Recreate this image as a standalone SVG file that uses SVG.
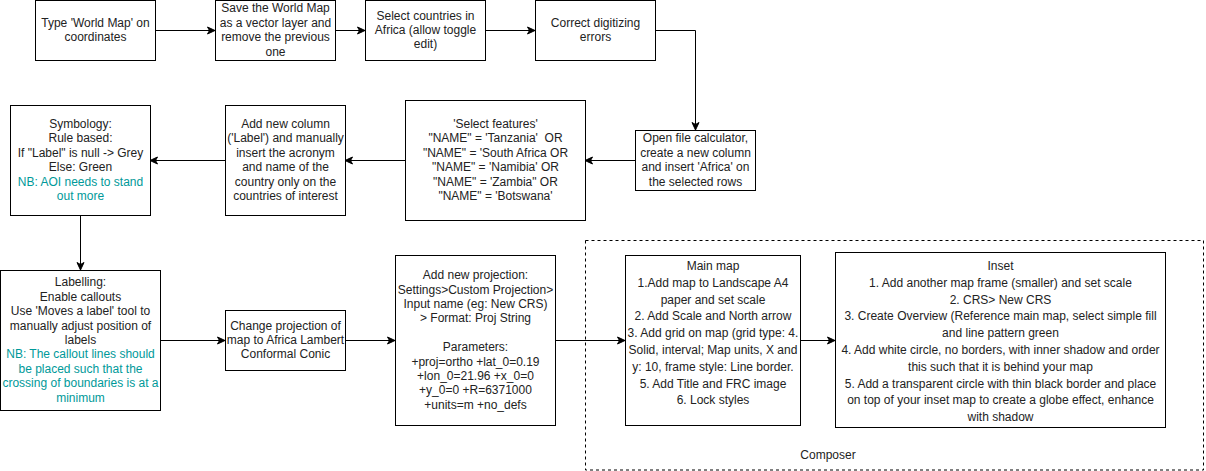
<svg xmlns="http://www.w3.org/2000/svg" width="1206" height="471" viewBox="0 0 1206 471">
<style>
.box{fill:#fff;stroke:#000;stroke-width:1}
.t{font-family:"Liberation Sans",Arial,sans-serif;font-size:12px;fill:#222;text-anchor:middle}
.nb{fill:#009999}
.edge{fill:none;stroke:#000;stroke-width:1}
.cont{fill:none;stroke:#000;stroke-width:1;stroke-dasharray:3 3}
</style>
<defs>
<marker id="arr" markerUnits="userSpaceOnUse" markerWidth="10" markerHeight="10" viewBox="0 0 10 10" refX="9" refY="5" orient="auto">
<path d="M1.5,1.5 L9,5 L1.5,8.5 L3.5,5 Z" fill="#000" stroke="#000" stroke-width="1"/>
</marker>
</defs>
<rect width="1206" height="471" fill="#fff"/>

<g id="composer">
<rect class="cont" x="585.5" y="240.5" width="618" height="229.5"/>
<text class="t" x="828" y="459">Composer</text>
</g>

<g id="connectors">
<path class="edge" d="M155,30.5 H215" marker-end="url(#arr)"/>
<path class="edge" d="M335,30.5 H365" marker-end="url(#arr)"/>
<path class="edge" d="M485,30.5 H535" marker-end="url(#arr)"/>
<path class="edge" d="M655,30.5 H695.5 V130" marker-end="url(#arr)"/>
<path class="edge" d="M635,160.5 H585" marker-end="url(#arr)"/>
<path class="edge" d="M405,160.5 H345" marker-end="url(#arr)"/>
<path class="edge" d="M225,160.5 H150" marker-end="url(#arr)"/>
<path class="edge" d="M80.5,215 V270" marker-end="url(#arr)"/>
<path class="edge" d="M160,340.5 H225" marker-end="url(#arr)"/>
<path class="edge" d="M345,340.5 H395" marker-end="url(#arr)"/>
<path class="edge" d="M555,340.5 H625" marker-end="url(#arr)"/>
<path class="edge" d="M800,340.5 H835" marker-end="url(#arr)"/>
</g>

<g id="n1">
<rect class="box" x="35.5" y="0.5" width="120" height="60"/>
<text class="t" x="95.5" y="26.8">Type 'World Map' on</text>
<text class="t" x="95.5" y="41.2">coordinates</text>
</g>

<g id="n2">
<rect class="box" x="215.5" y="0.5" width="120" height="60"/>
<text class="t" x="275.5" y="12.4">Save the World Map</text>
<text class="t" x="275.5" y="26.8">as a vector layer and</text>
<text class="t" x="275.5" y="41.2">remove the previous</text>
<text class="t" x="275.5" y="55.6">one</text>
</g>

<g id="n3">
<rect class="box" x="365.5" y="0.5" width="120" height="60"/>
<text class="t" x="425.5" y="19.6">Select countries in</text>
<text class="t" x="425.5" y="34">Africa (allow toggle</text>
<text class="t" x="425.5" y="48.4">edit)</text>
</g>

<g id="n4">
<rect class="box" x="535.5" y="0.5" width="120" height="60"/>
<text class="t" x="595.5" y="26.8">Correct digitizing</text>
<text class="t" x="595.5" y="41.2">errors</text>
</g>

<g id="n5">
<rect class="box" x="635.5" y="130.5" width="120" height="60"/>
<text class="t" x="695.5" y="142.4">Open file calculator,</text>
<text class="t" x="695.5" y="156.8">create a new column</text>
<text class="t" x="695.5" y="171.2">and insert 'Africa' on</text>
<text class="t" x="695.5" y="185.6">the selected rows</text>
</g>

<g id="n6">
<rect class="box" x="405.5" y="100.5" width="180" height="120"/>
<text class="t" x="495.5" y="128">'Select features'</text>
<text class="t" x="495.5" y="142.4" xml:space="preserve">"NAME" = 'Tanzania'  OR</text>
<text class="t" x="495.5" y="156.8">"NAME" = 'South Africa OR</text>
<text class="t" x="495.5" y="171.2">"NAME" = 'Namibia' OR</text>
<text class="t" x="495.5" y="185.6">"NAME" = 'Zambia" OR</text>
<text class="t" x="495.5" y="200">"NAME" = 'Botswana'</text>
</g>

<g id="n7">
<rect class="box" x="225.5" y="105.5" width="120" height="110"/>
<text class="t" x="285.5" y="128">Add new column</text>
<text class="t" x="285.5" y="142.4">('Label') and manually</text>
<text class="t" x="285.5" y="156.8">insert the acronym</text>
<text class="t" x="285.5" y="171.2">and name of the</text>
<text class="t" x="285.5" y="185.6">country only on the</text>
<text class="t" x="285.5" y="200">countries of interest</text>
</g>

<g id="n8">
<rect class="box" x="10.5" y="105.5" width="140" height="110"/>
<text class="t" x="80.5" y="128">Symbology:</text>
<text class="t" x="80.5" y="142.4">Rule based:</text>
<text class="t" x="80.5" y="156.8">If "Label" is null -&gt; Grey</text>
<text class="t" x="80.5" y="171.2">Else: Green</text>
<text class="t nb" x="80.5" y="185.6">NB: AOI needs to stand</text>
<text class="t nb" x="80.5" y="200">out more</text>
</g>

<g id="n9">
<rect class="box" x="0.5" y="270.5" width="160" height="140"/>
<text class="t" x="80.5" y="286.4">Labelling:</text>
<text class="t" x="80.5" y="300.8">Enable callouts</text>
<text class="t" x="80.5" y="315.2">Use 'Moves a label' tool to</text>
<text class="t" x="80.5" y="329.6">manually adjust position of</text>
<text class="t" x="80.5" y="344">labels</text>
<text class="t nb" x="80.5" y="358.4">NB: The callout lines should</text>
<text class="t nb" x="80.5" y="372.8">be placed such that the</text>
<text class="t nb" x="80.5" y="387.2">crossing of boundaries is at a</text>
<text class="t nb" x="80.5" y="401.6">minimum</text>
</g>

<g id="n10">
<rect class="box" x="225.5" y="310.5" width="120" height="60"/>
<text class="t" x="285.5" y="329.6">Change projection of</text>
<text class="t" x="285.5" y="344">map to Africa Lambert</text>
<text class="t" x="285.5" y="358.4">Conformal Conic</text>
</g>

<g id="n11">
<rect class="box" x="395.5" y="255.5" width="160" height="170"/>
<text class="t" x="475.5" y="279.2">Add new projection:</text>
<text class="t" x="475.5" y="293.6">Settings&gt;Custom Projection&gt;</text>
<text class="t" x="475.5" y="308">Input name (eg: New CRS)</text>
<text class="t" x="475.5" y="322.4">&gt; Format: Proj String</text>
<text class="t" x="475.5" y="351.2">Parameters:</text>
<text class="t" x="475.5" y="365.6">+proj=ortho +lat_0=0.19</text>
<text class="t" x="475.5" y="380">+lon_0=21.96 +x_0=0</text>
<text class="t" x="475.5" y="394.4">+y_0=0 +R=6371000</text>
<text class="t" x="475.5" y="408.8">+units=m +no_defs</text>
</g>

<g id="n12">
<rect class="box" x="625.5" y="255.5" width="175" height="170"/>
<text class="t" x="713" y="270">Main map</text>
<text class="t" x="713" y="286.8">1.Add map to Landscape A4</text>
<text class="t" x="713" y="303.6">paper and set scale</text>
<text class="t" x="713" y="320.4">2. Add Scale and North arrow</text>
<text class="t" x="713" y="337.2">3. Add grid on map (grid type: 4.</text>
<text class="t" x="713" y="354">Solid, interval; Map units, X and</text>
<text class="t" x="713" y="370.8">y: 10, frame style: Line border.</text>
<text class="t" x="713" y="387.6">5. Add Title and FRC image</text>
<text class="t" x="713" y="404.4">6. Lock styles</text>
</g>

<g id="n13">
<rect class="box" x="835.5" y="252.5" width="330" height="175"/>
<text class="t" x="1000.5" y="270">Inset</text>
<text class="t" x="1000.5" y="286.8">1. Add another map frame (smaller) and set scale</text>
<text class="t" x="1000.5" y="303.6">2. CRS&gt; New CRS</text>
<text class="t" x="1000.5" y="320.4">3. Create Overview (Reference main map, select simple fill</text>
<text class="t" x="1000.5" y="337.2">and line pattern green</text>
<text class="t" x="1000.5" y="354">4. Add white circle, no borders, with inner shadow and order</text>
<text class="t" x="1000.5" y="370.8">this such that it is behind your map</text>
<text class="t" x="1000.5" y="387.6">5. Add a transparent circle with thin black border and place</text>
<text class="t" x="1000.5" y="404.4">on top of your inset map to create a globe effect, enhance</text>
<text class="t" x="1000.5" y="421.2">with shadow</text>
</g>
</svg>
